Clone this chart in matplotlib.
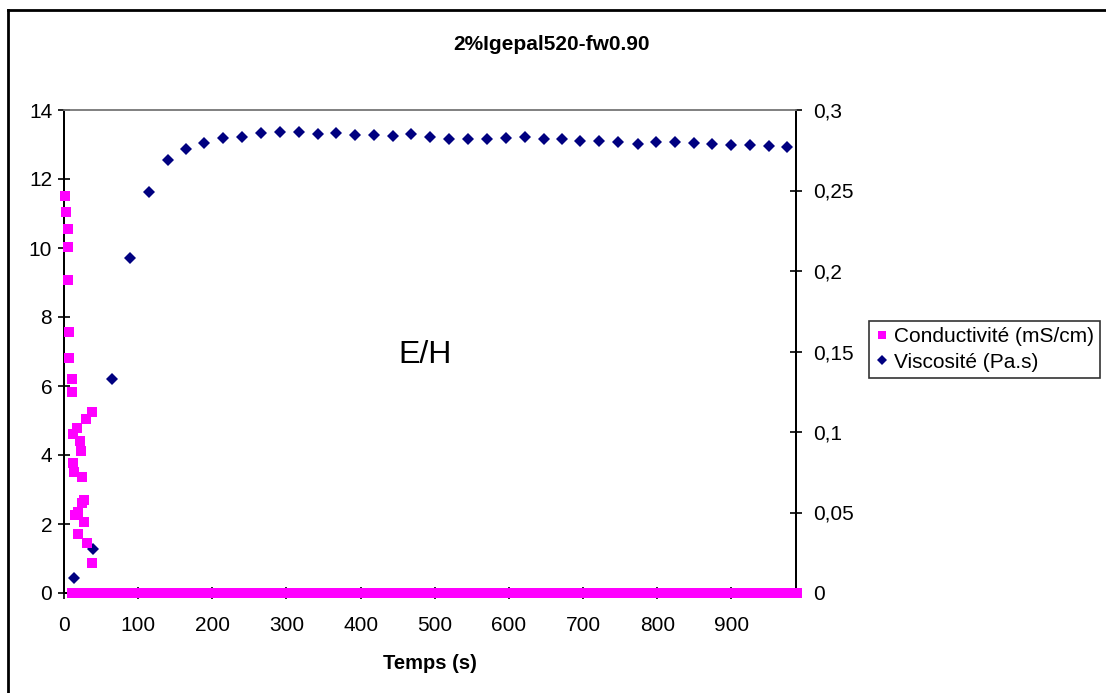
import numpy as np
import matplotlib
matplotlib.use('Agg')
import matplotlib.pyplot as plt
from matplotlib.lines import Line2D
from matplotlib.ticker import FixedLocator, FixedFormatter

plt.rcParams['font.family'] = ['Liberation Sans', 'DejaVu Sans']

# conductivite (mS/cm), points
cond_t = [1.3, 2.3, 5.8, 5.8, 5.8, 7.2, 7.2, 10.4, 10.4, 37.4, 29.3, 17.0, 12.6,
          21.6, 22.5, 12.6, 14.0, 23.9, 27.4, 23.9, 19.3, 15.0, 27.4, 19.3, 30.6,
          37.4, 10.5]
cond_v = [11.5, 11.03, 10.54, 10.02, 9.07, 7.57, 6.82, 6.19, 5.84, 5.26, 5.03,
          4.79, 4.60, 4.41, 4.12, 3.76, 3.52, 3.37, 2.70, 2.62, 2.36, 2.26, 2.05,
          1.71, 1.46, 0.86, 0.0]
# ensuite conductivite nulle, points serres jusqu'a la fin
zero_t = np.arange(24, 990, 4)
zero_v = np.zeros(len(zero_t))

# viscosite (Pa.s)
visc_t = [13.5, 38.7, 64.4, 89, 114.3, 140, 164.6, 189.4, 215, 240, 265.4, 291.5,
          316.7, 342.3, 367, 392.7, 417.4, 443.5, 468, 494, 519, 544.8, 570, 595.5,
          621, 647, 671.6, 696, 721.5, 747, 773.7, 798.5, 823.7, 849, 874, 898.8,
          924.4, 950.5, 975.3]
visc_v = [0.0091, 0.0273, 0.1327, 0.2079, 0.2489, 0.2689, 0.2758, 0.2793, 0.2824,
          0.2834, 0.2857, 0.2861, 0.2861, 0.2853, 0.2855, 0.2847, 0.2847, 0.2840,
          0.2851, 0.2834, 0.2822, 0.2820, 0.2818, 0.2828, 0.2834, 0.2818, 0.2820,
          0.2809, 0.2809, 0.2803, 0.2789, 0.2799, 0.2799, 0.2793, 0.2789, 0.2783,
          0.2783, 0.2777, 0.2772]

x_ticks = [0, 100, 200, 300, 400, 500, 600, 700, 800, 900]
left_ticks = [0, 2, 4, 6, 8, 10, 12, 14]
right_ticks = [0, 0.05, 0.1, 0.15, 0.2, 0.25, 0.3]
right_labels = ['0', '0,05', '0,1', '0,15', '0,2', '0,25', '0,3']

pink = '#FF00FF'
navy = '#000080'

W, H = 1106, 693
fig = plt.figure(figsize=(W / 100, H / 100), dpi=100)
ax = fig.add_axes([64 / W, 1 - 593 / H, (796 - 64) / W, (593 - 110) / H])
ax2 = ax.twinx()
# axe gauche au-dessus pour que la bande rose couvre l'axe des x
ax.set_zorder(2)
ax.patch.set_visible(False)

ax.plot(cond_t, cond_v, 's', color=pink, ms=6.8, mew=0, clip_on=False, zorder=3)
ax.plot(zero_t, zero_v, 's', color=pink, ms=6.8, mew=0, clip_on=False, zorder=3)
ax2.plot(visc_t, visc_v, 'D', color=navy, ms=5.8, mew=0, zorder=4)

ax.set_xlim(0, 987)
ax.set_ylim(0, 14)
ax2.set_ylim(0, 0.3)
ax.xaxis.set_major_locator(FixedLocator(x_ticks))
ax.yaxis.set_major_locator(FixedLocator(left_ticks))
ax2.yaxis.set_major_locator(FixedLocator(right_ticks))
ax2.yaxis.set_major_formatter(FixedFormatter(right_labels))

for a in (ax, ax2):
    a.tick_params(direction='inout', length=9, width=1.2, labelsize=15, pad=4)
    a.spines['top'].set_color('#808080')
    a.spines['top'].set_linewidth(1.2)
    for s in ('left', 'right', 'bottom'):
        a.spines[s].set_linewidth(1.4)
ax2.spines['bottom'].set_visible(False)
ax.tick_params(axis='x', pad=12)
ax2.tick_params(pad=8)

ax.set_xlabel('Temps (s)', fontsize=14.5, fontweight='bold', labelpad=14)
fig.text(552 / W, 1 - 45 / H, '2%Igepal520-fw0.90', fontsize=15, fontweight='bold',
         ha='center', va='center')
ax.text(487, 6.9, 'E/H', fontsize=23, ha='center', va='center')

handles = [Line2D([], [], ls='', marker='s', color=pink, ms=6.3, mew=0),
           Line2D([], [], ls='', marker='D', color=navy, ms=5.5, mew=0)]
leg = fig.legend(handles, ['Conductivité (mS/cm)', 'Viscosité (Pa.s)'],
                 loc='upper left', bbox_to_anchor=(869 / W, 1 - 321 / H),
                 fontsize=15, frameon=True, fancybox=False, handlelength=0.6,
                 handletextpad=0.3, borderpad=0.3, labelspacing=0.3,
                 borderaxespad=0)
leg.get_frame().set_edgecolor('black')
leg.get_frame().set_linewidth(1.2)

# cadre exterieur (seulement gauche et haut visibles)
fig.add_artist(Line2D([8 / W, 8 / W], [0, 1 - 10 / H], transform=fig.transFigure,
                      color='black', lw=2))
fig.add_artist(Line2D([8 / W, 1], [1 - 10 / H, 1 - 10 / H], transform=fig.transFigure,
                      color='black', lw=2))

fig.savefig('out.png', dpi=100)
